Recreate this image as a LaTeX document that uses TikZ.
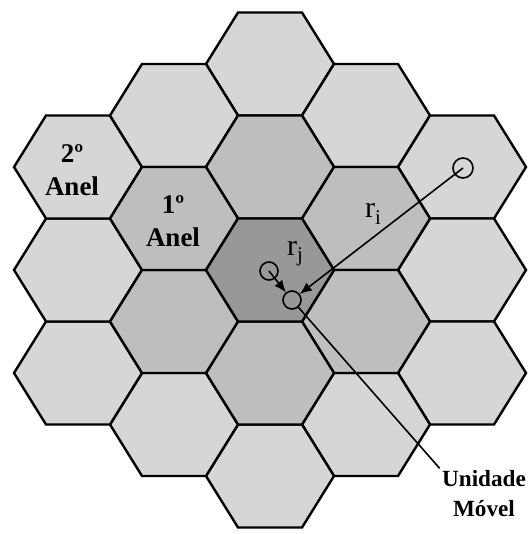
\documentclass[tikz,border=0pt]{standalone}
\usepackage{fontspec}
\setmainfont{Liberation Serif}
\usetikzlibrary{arrows.meta,shapes.geometric}
\definecolor{cellouter} {RGB}{214,214,214}
\definecolor{cellring}  {RGB}{190,190,190}
\definecolor{cellcenter}{RGB}{152,152,152}

\begin{document}
\begin{tikzpicture}[x=0.5pt,y=-0.5pt,
  cell/.style={regular polygon,regular polygon sides=6,draw=black,line width=1.2pt,
               minimum size=64pt,inner sep=0pt,yscale=0.929},
  outercell/.style={cell,fill=cellouter},
  ringcell/.style={cell,fill=cellring},
  centercell/.style={cell,fill=cellcenter},
  station/.style={circle,draw=black,line width=0.8pt,minimum size=9pt,inner sep=0pt},
  arr/.style={line width=0.8pt,-{Latex[length=6pt,width=5pt]}},
  ringlbl/.style={font=\fontsize{13.5}{16.5}\selectfont\bfseries,align=center,inner sep=0pt},
  rlbl/.style={font=\fontsize{15}{15}\selectfont,inner sep=0pt},
  unitlbl/.style={font=\fontsize{11.6}{15}\selectfont\bfseries,align=center,inner sep=1pt},
]
\useasboundingbox (0,0) rectangle (529,534);

%% 2nd ring
\node[outercell] (o1)  at (270,64)    {};
\node[outercell] (o2)  at (366,115.5) {};
\node[outercell] (o3)  at (462,167)   {};
\node[outercell] (o4)  at (462,270)   {};
\node[outercell] (o5)  at (462,373)   {};
\node[outercell] (o6)  at (366,424.5) {};
\node[outercell] (o7)  at (270,476)   {};
\node[outercell] (o8)  at (174,424.5) {};
\node[outercell] (o9)  at (78,373)    {};
\node[outercell] (o10) at (78,270)    {};
\node[outercell] (o11) at (78,167)    {};
\node[outercell] (o12) at (174,115.5) {};

%% 1st ring
\node[ringcell] (r1) at (270,167)   {};
\node[ringcell] (r2) at (366,218.5) {};
\node[ringcell] (r3) at (366,321.5) {};
\node[ringcell] (r4) at (270,373)   {};
\node[ringcell] (r5) at (174,321.5) {};
\node[ringcell] (r6) at (174,218.5) {};

%% Centre cell
\node[centercell] (c0) at (270,270) {};

%% Ring labels
\node[ringlbl] (lbl2) at (72,170)  {2º\\Anel};
\node[ringlbl] (lbl1) at (173,221) {1º\\Anel};

%% Base stations and mobile
\node[station] (bsj) at (269,271) {};
\node[station,minimum size=10pt] (bsi) at (463,168) {};
\node[station] (ms) at (292,300) {};

\draw[arr] (bsj.center) -- (ms);
\draw[arr] (bsi.center) -- (ms);

\node[rlbl] (ri) at (373,214) {r\raisebox{-0.45ex}{\fontsize{10.5}{10.5}\selectfont i}};
\node[rlbl] (rj) at (295,254) {r\raisebox{-0.45ex}{\fontsize{10.5}{10.5}\selectfont j}};

%% Mobile unit label
\node[unitlbl] (mslbl) at (484,494) {Unidade\\Móvel};
\draw[line width=0.8pt] (ms) -- (mslbl.north west);

\end{tikzpicture}
\end{document}
